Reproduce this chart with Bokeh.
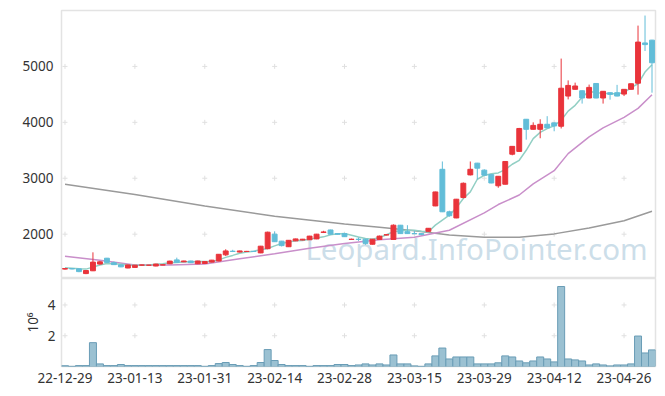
from bokeh.plotting import figure
from bokeh.models import Range1d, FixedTicker, Label, ColumnDataSource
from bokeh.layouts import column
from bokeh.embed import file_html
from bokeh.resources import INLINE

dates = ["22-12-29",
         "23-01-02", "23-01-03", "23-01-04", "23-01-05", "23-01-06", "23-01-09", "23-01-10", "23-01-11", "23-01-12", "23-01-13",
         "23-01-16", "23-01-17", "23-01-18", "23-01-19", "23-01-20", "23-01-25", "23-01-26", "23-01-27", "23-01-30", "23-01-31",
         "23-02-01", "23-02-02", "23-02-03", "23-02-06", "23-02-07", "23-02-08", "23-02-09", "23-02-10", "23-02-13", "23-02-14",
         "23-02-15", "23-02-16", "23-02-17", "23-02-20", "23-02-21", "23-02-22", "23-02-23", "23-02-24", "23-02-27", "23-02-28",
         "23-03-02", "23-03-03", "23-03-06", "23-03-07", "23-03-08", "23-03-09", "23-03-10", "23-03-13", "23-03-14", "23-03-15",
         "23-03-16", "23-03-17", "23-03-20", "23-03-21", "23-03-22", "23-03-23", "23-03-24", "23-03-27", "23-03-28", "23-03-29",
         "23-03-30", "23-03-31", "23-04-03", "23-04-04", "23-04-05", "23-04-06", "23-04-07", "23-04-10", "23-04-11", "23-04-12",
         "23-04-13", "23-04-14", "23-04-17", "23-04-18", "23-04-19", "23-04-20", "23-04-21", "23-04-24", "23-04-25", "23-04-26",
         "23-04-27", "23-04-28", "23-05-02", "23-05-03"]

opens = [1375, 1385, 1380, 1295, 1345, 1465, 1570, 1490, 1450, 1395,
         1405, 1445, 1445, 1430, 1448, 1470, 1540, 1505, 1520, 1470,
         1475, 1500, 1520, 1630, 1695, 1680, 1690, 1692, 1665, 1740,
         2000, 1875, 1775, 1880, 1895, 1900, 1915, 2030, 2075, 2010,
         2010, 1905, 1910, 1910, 1820, 1905, 1985, 1905, 2160, 2045,
         2012, 2010, 2050, 2505, 3160, 2400, 2290, 2655, 3060, 3270,
         3145, 3065, 2865, 2893, 3430, 3480, 4055, 3875, 3875, 3965,
         3990, 3930, 4470, 4590, 4565, 4435, 4695, 4435, 4530, 4530,
         4505, 4590, 4700, 5420, 5470]
highs = [1395, 1395, 1385, 1355, 1675, 1520, 1575, 1510, 1455, 1455,
         1450, 1455, 1450, 1470, 1455, 1525, 1580, 1525, 1525, 1525,
         1515, 1540, 1645, 1730, 1720, 1705, 1700, 1700, 1790, 2045,
         2050, 1880, 1895, 1920, 1915, 1970, 2005, 2060, 2080, 2015,
         2020, 1920, 1940, 1915, 1915, 1975, 2000, 2175, 2165, 2160,
         2060, 2015, 2110, 2760, 3300, 2420, 2630, 2925, 3300, 3275,
         3160, 3070, 3040, 3305, 3575, 3900, 4060, 4000, 4055, 4110,
         4000, 5140, 4750, 4710, 4570, 4675, 4700, 4560, 4535, 4670,
         4595, 4695, 5730, 5910, 5475]
lows = [1365, 1370, 1320, 1285, 1340, 1455, 1490, 1450, 1410, 1390,
        1400, 1440, 1440, 1425, 1445, 1465, 1490, 1500, 1485, 1465,
        1470, 1495, 1515, 1610, 1680, 1675, 1685, 1688, 1660, 1730,
        1860, 1780, 1770, 1875, 1890, 1895, 1910, 2020, 1995, 1995,
        1950, 1900, 1880, 1810, 1815, 1900, 1980, 1900, 2005, 2005,
        2000, 1985, 2045, 2500, 2395, 2310, 2285, 2640, 3050, 2980,
        3050, 2910, 2830, 2890, 3410, 3475, 3690, 3870, 3715, 3960,
        3840, 3890, 4410, 4585, 4335, 4430, 4430, 4335, 4405, 4465,
        4470, 4585, 4495, 5275, 4530]
closes = [1385, 1378, 1330, 1350, 1500, 1505, 1495, 1455, 1415, 1450,
          1445, 1450, 1445, 1465, 1452, 1518, 1495, 1520, 1490, 1520,
          1510, 1535, 1640, 1700, 1690, 1700, 1692, 1690, 1785, 2035,
          1865, 1795, 1890, 1915, 1910, 1965, 2000, 2040, 2000, 1998,
          1955, 1910, 1905, 1835, 1910, 1965, 1990, 2160, 2010, 2010,
          2008, 1992, 2105, 2755, 2400, 2330, 2625, 2910, 3160, 3180,
          3055, 2915, 3035, 3300, 3570, 3890, 3875, 3945, 3965, 3900,
          3935, 4610, 4660, 4650, 4435, 4625, 4435, 4555, 4500, 4470,
          4590, 4690, 5435, 5390, 5065]

# volume in shares
volumes = [0.05e6, 0.01e6, 0.06e6, 0.06e6, 1.55e6, 0.17e6, 0.06e6, 0.06e6, 0.13e6, 0.06e6,
           0.06e6, 0.06e6, 0.06e6, 0.06e6, 0.06e6, 0.06e6, 0.06e6, 0.06e6, 0.06e6, 0.06e6,
           0.01e6, 0.06e6, 0.19e6, 0.26e6, 0.13e6, 0.06e6, 0.01e6, 0.06e6, 0.26e6, 1.10e6,
           0.39e6, 0.13e6, 0.06e6, 0.06e6, 0.06e6, 0.01e6, 0.06e6, 0.06e6, 0.06e6, 0.13e6,
           0.13e6, 0.06e6, 0.10e6, 0.17e6, 0.10e6, 0.17e6, 0.10e6, 0.75e6, 0.17e6, 0.17e6,
           0.04e6, 0.01e6, 0.17e6, 0.69e6, 1.20e6, 0.49e6, 0.62e6, 0.62e6, 0.62e6, 0.17e6,
           0.17e6, 0.17e6, 0.24e6, 0.69e6, 0.62e6, 0.36e6, 0.24e6, 0.36e6, 0.62e6, 0.49e6,
           0.30e6, 5.20e6, 0.49e6, 0.43e6, 0.36e6, 0.10e6, 0.17e6, 0.10e6, 0.04e6, 0.10e6,
           0.10e6, 0.17e6, 1.98e6, 0.88e6, 1.08e6]

ma5 = [1398, 1390, 1380, 1375, 1410, 1450, 1476, 1470, 1460, 1450,
       1446, 1445, 1450, 1460, 1470, 1488, 1495, 1500, 1505, 1510,
       1510, 1506, 1540, 1585, 1620, 1660, 1680, 1696, 1720, 1744,
       1790, 1833, 1860, 1880, 1887, 1910, 1930, 1952, 1990, 2005,
       2010, 1982, 1950, 1923, 1910, 1941, 1990, 2042, 2060, 2071,
       2071, 2050, 2042, 2161, 2250, 2339, 2470, 2637, 2756, 2982,
       3050, 3080, 3095, 3155, 3250, 3321, 3500, 3708, 3820, 3887,
       3940, 4036, 4200, 4304, 4450, 4554, 4530, 4520, 4512, 4510,
       4530, 4620, 4690, 4899, 5030]

ma20_idx = [0, 5, 10, 15, 20, 25, 30, 35, 40, 45, 50, 55, 60, 62, 65, 67, 70, 72, 75, 77, 80, 82, 84]
ma20 = [1605, 1535, 1450, 1448, 1465, 1560, 1650, 1750, 1835, 1900, 1945, 2070, 2380, 2530, 2700, 2900, 3135, 3440, 3740, 3900, 4090, 4250, 4494]

ma120_idx = [0, 10, 20, 30, 40, 45, 50, 55, 60, 65, 70, 75, 80, 84]
ma120 = [2893, 2710, 2505, 2320, 2180, 2125, 2060, 1985, 1946, 1943, 2005, 2110, 2240, 2411]

price_ticks = [2000, 3000, 4000, 5000]
vol_ticks = [2e6, 4e6]
vol_tick_labels = ["2", "4"]
date_tick_step = 10

UP = "#e9343b"
DOWN = "#62bdd8"
FONT = "Noto Sans"
TXT = "#333333"

n = len(dates)
idx = list(range(n))
xticks = idx[::date_tick_step]

up = [c >= o for o, c in zip(opens, closes)]
colors = [UP if u else DOWN for u in up]
src = ColumnDataSource(dict(x=idx, o=opens, h=highs, l=lows, c=closes, col=colors,
                            top=[max(o, c) for o, c in zip(opens, closes)],
                            bot=[min(o, c) for o, c in zip(opens, closes)],
                            v=volumes))

xr = Range1d(-0.5, n - 0.5)

p = figure(width=657, height=278, x_range=xr, y_range=Range1d(1207, 6000),
           output_backend="svg", toolbar_location=None,
           min_border_left=61, min_border_right=2, min_border_top=10, min_border_bottom=0)
p.xaxis.visible = False
p.xgrid.visible = False
p.ygrid.visible = False
p.outline_line_color = "#e3e3e3"
p.outline_line_width = 1.5
p.yaxis.ticker = FixedTicker(ticks=price_ticks)
p.yaxis.axis_line_color = None
p.yaxis.major_tick_line_color = None
p.yaxis.minor_tick_line_color = None
p.yaxis.major_label_standoff = 2
p.yaxis.major_label_text_font = FONT
p.yaxis.major_label_text_font_size = "13.5px"
p.yaxis.major_label_text_color = TXT

# grid crosses
gx = [x for x in xticks for _ in price_ticks]
gy = [y for _ in xticks for y in price_ticks]
p.scatter(gx, gy, marker="cross", size=5, line_color="#e0e0e0", line_width=1)

wm = Label(x=34.4, y=1383, text="Leopard.InfoPointer.com", text_font=FONT,
           text_font_size="29.5px", text_color="#c3d8e5", text_alpha=0.85, level="underlay")
p.add_layout(wm)

p.line(ma120_idx, ma120, line_color="#9a9a9a", line_width=1.5)
p.line(ma20_idx, ma20, line_color="#c98fca", line_width=1.5)
p.line(idx, ma5, line_color="#92cfc4", line_width=1.5)

p.segment(x0="x", y0="h", x1="x", y1="l", line_color="col", line_width=1, source=src)
p.vbar(x="x", width=0.7, top="top", bottom="bot", fill_color="col", line_color="col", line_width=1, source=src)

p2 = figure(width=657, height=107, x_range=xr, y_range=Range1d(0, 5.72e6),
            output_backend="svg", toolbar_location=None,
            min_border_left=61, min_border_right=2, min_border_top=0, min_border_bottom=0)
p2.xgrid.visible = False
p2.ygrid.visible = False
p2.outline_line_color = "#e3e3e3"
p2.outline_line_width = 1.5
p2.yaxis.ticker = FixedTicker(ticks=vol_ticks)
p2.yaxis.major_label_overrides = {t: s for t, s in zip(vol_ticks, vol_tick_labels)}
p2.yaxis.axis_label = "10\u2076"
p2.yaxis.axis_label_text_font = FONT
p2.yaxis.axis_label_text_font_size = "13.5px"
p2.yaxis.axis_label_text_font_style = "normal"
p2.yaxis.axis_label_text_color = TXT
p2.yaxis.axis_label_standoff = 3
for ax in (p2.yaxis, p2.xaxis):
    ax.axis_line_color = None
    ax.major_tick_line_color = None
    ax.minor_tick_line_color = None
    ax.major_label_text_font = FONT
    ax.major_label_text_font_size = "13.5px"
    ax.major_label_text_color = TXT
p2.yaxis.major_label_standoff = 0
p2.xaxis.major_label_standoff = 0
p2.xaxis.ticker = FixedTicker(ticks=xticks)
p2.xaxis.major_label_overrides = {i: dates[i] for i in xticks}

gx2 = [x for x in xticks for _ in vol_ticks]
gy2 = [y for _ in xticks for y in vol_ticks]
p2.scatter(gx2, gy2, marker="cross", size=5, line_color="#e0e0e0", line_width=1)

p2.vbar(x="x", width=1.0, top="v", bottom=0, fill_color="#9bc1d2", line_color="#6a9db6",
        line_width=1, source=src)

layout = column(p, p2, spacing=0)
open("out.html", "w").write(file_html(layout, INLINE))
